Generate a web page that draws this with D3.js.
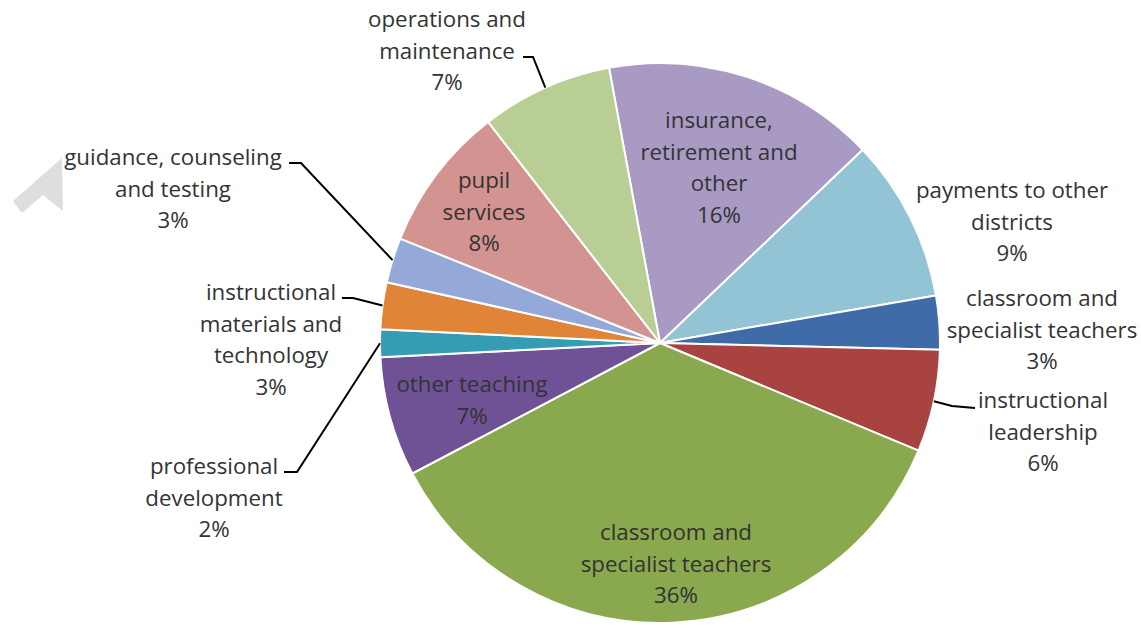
<!DOCTYPE html>
<html>
<head>
<meta charset="utf-8">
<script src="https://cdn.jsdelivr.net/npm/d3@7"></script>
<style>
  body { margin: 0; background: #fff; }
  text { font-family: "Open Sans", Lato, sans-serif; fill: #333; }
</style>
</head>
<body>
<script>
var width = 1141;
var height = 628;

// data, clockwise from the slice at the top
var categories = [
  "insurance, retirement and other",
  "payments to other districts",
  "classroom and specialist teachers",
  "instructional leadership",
  "classroom and specialist teachers",
  "other teaching",
  "professional development",
  "instructional materials and technology",
  "guidance, counseling and testing",
  "pupil services",
  "operations and maintenance"
];
var values = [15.8, 9.4, 3.1, 5.9, 36.0, 6.9, 1.6, 2.7, 2.6, 8.4, 7.6];
var percentLabels = ["16%", "9%", "3%", "6%", "36%", "7%", "2%", "3%", "3%", "8%", "7%"];
var labelLines = [
  ["insurance,", "retirement and", "other"],
  ["payments to other", "districts"],
  ["classroom and", "specialist teachers"],
  ["instructional", "leadership"],
  ["classroom and", "specialist teachers"],
  ["other teaching"],
  ["professional", "development"],
  ["instructional", "materials and", "technology"],
  ["guidance, counseling", "and testing"],
  ["pupil", "services"],
  ["operations and", "maintenance"]
];

var colors = ["#a99ac4", "#92c4d5", "#3f6ba8", "#a84341", "#8aa84d", "#6e5295",
              "#359cb3", "#e08537", "#94a9d7", "#d39391", "#b8ce94"];

// label placement (centre x, first baseline y) and leader bends
var labelPos = [
  [719, 128], [1012, 198], [1042, 306], [1043, 408], [676, 540], [472, 392],
  [214, 474], [271, 300], [173, 165], [484, 188], [447, 27]
];
var leaders = {
  3: [[975, 408], [952, 406]],
  6: [[284, 472], [297, 472]],
  7: [[342, 298], [353, 298]],
  8: [[289, 163], [301, 163]],
  10: [[523, 57], [533, 57]]
};

var cx = 660, cy = 343, radius = 280;
var lineHeight = 31.5;

var svg = d3.select("body")
  .append("svg")
  .attr("width", width)
  .attr("height", height);

// faint grey arrow mark in the corner
svg.append("polygon")
  .attr("points", "62,158 13,201 22,213 43,195 63,211")
  .attr("fill", "#dedede");

var pie = d3.pie()
  .sort(null)
  .startAngle(-10.5 * Math.PI / 180)
  .endAngle((360 - 10.5) * Math.PI / 180);

var arcs = pie(values);

var arc = d3.arc().innerRadius(0).outerRadius(radius);
var edgeArc = d3.arc().innerRadius(radius).outerRadius(radius);

var g = svg.append("g")
  .attr("transform", "translate(" + cx + "," + cy + ")");

g.selectAll("path")
  .data(arcs)
  .enter()
  .append("path")
  .attr("d", arc)
  .attr("fill", function(d, i) { return colors[i]; })
  .attr("stroke", "#fff")
  .attr("stroke-width", 2)
  .attr("stroke-linejoin", "round");

// leader lines
Object.keys(leaders).forEach(function(k) {
  var i = +k;
  var p = edgeArc.centroid(arcs[i]);
  var pts = leaders[k].concat([[p[0] + cx, p[1] + cy]]);
  svg.append("path")
    .attr("d", d3.line()(pts))
    .attr("fill", "none")
    .attr("stroke", "#000")
    .attr("stroke-width", 2);
});

// labels
var labels = svg.selectAll("text.label")
  .data(categories)
  .enter()
  .append("text")
  .attr("class", "label")
  .attr("text-anchor", "middle")
  .attr("font-size", "22.3px");

labels.each(function(d, i) {
  var t = d3.select(this);
  var lines = labelLines[i].concat([percentLabels[i]]);
  lines.forEach(function(line, j) {
    t.append("tspan")
      .attr("x", labelPos[i][0])
      .attr("y", labelPos[i][1] + j * lineHeight)
      .text(line);
  });
});
</script>
</body>
</html>
